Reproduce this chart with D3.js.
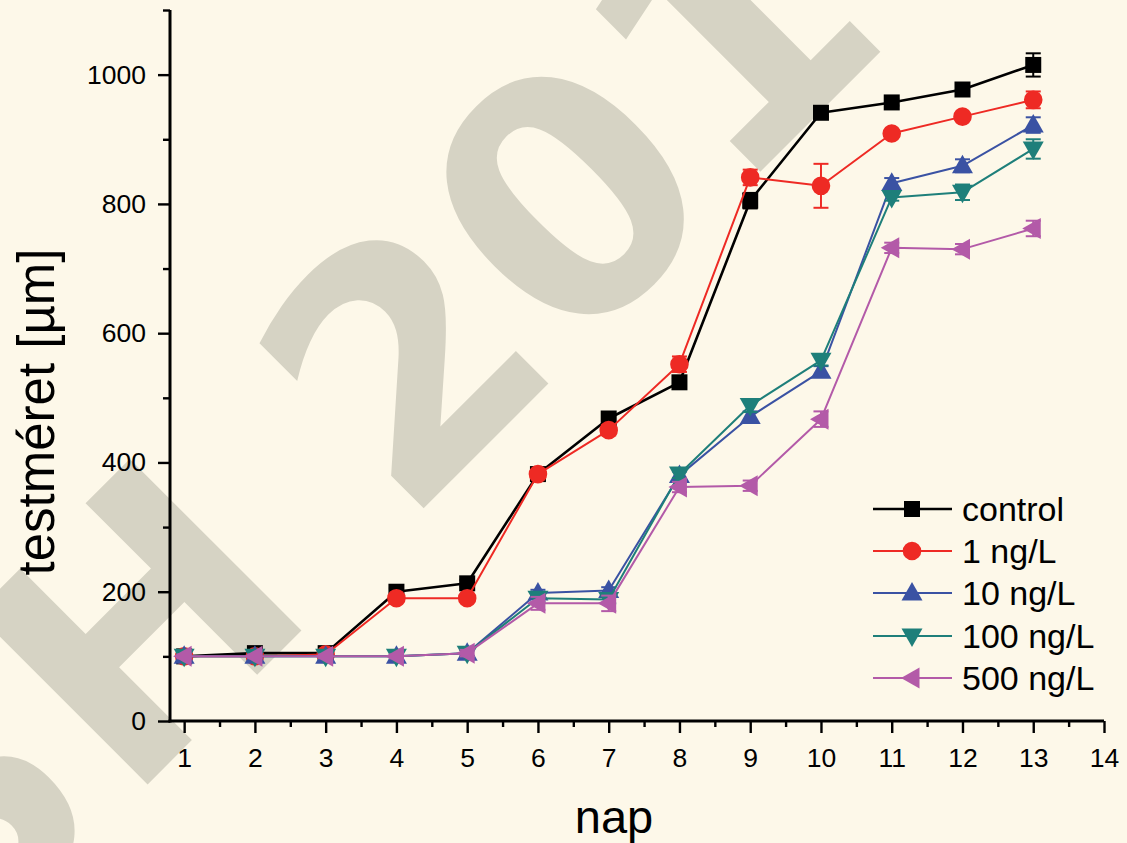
<!DOCTYPE html>
<html>
<head>
<meta charset="utf-8">
<script src="https://cdn.jsdelivr.net/npm/d3@7"></script>
<style>
  html, body { margin: 0; padding: 0; background: #fdf8e9; }
  svg { display: block; }
</style>
</head>
<body>
<script>
// Body size (µm) of larvae over days, per treatment concentration
const days = [1, 2, 3, 4, 5, 6, 7, 8, 9, 10, 11, 12, 13];

const control    = [100, 105, 105, 200, 213, 382, 468, 524, 805, 941, 957, 977, 1015];
const controlErr = [3, 3, 3, 5, 5, 6, 6, 6, 12, 6, 5, 5, 18];

const ng1    = [100, 100, 103, 190, 190, 382, 450, 552, 841, 828, 909, 935, 961];
const ng1Err = [3, 3, 3, 5, 5, 6, 8, 12, 12, 34, 5, 5, 13];

const ng10    = [100, 100, 100, 100, 105, 198, 202, 380, 471, 541, 832, 859, 922];
const ng10Err = [3, 3, 3, 3, 5, 5, 5, 6, 8, 8, 8, 10, 12];

const ng100    = [100, 100, 100, 100, 105, 190, 188, 382, 488, 558, 810, 818, 885];
const ng100Err = [3, 3, 3, 3, 5, 6, 6, 6, 10, 8, 5, 12, 15];

const ng500    = [100, 100, 100, 100, 105, 182, 182, 362, 364, 467, 732, 730, 762];
const ng500Err = [3, 3, 3, 3, 5, 10, 12, 8, 8, 12, 8, 8, 12];

const seriesNames = ["control", "1 ng/L", "10 ng/L", "100 ng/L", "500 ng/L"];
const xTicks = [1, 2, 3, 4, 5, 6, 7, 8, 9, 10, 11, 12, 13, 14];
const yTicks = [0, 200, 400, 600, 800, 1000];

const series = [
  { name: seriesNames[0], values: control, err: controlErr, color: "#000000", width: 2.6, shape: "square" },
  { name: seriesNames[1], values: ng1,     err: ng1Err,     color: "#ee2a24", width: 2,   shape: "circle" },
  { name: seriesNames[2], values: ng10,    err: ng10Err,    color: "#3a52a3", width: 2,   shape: "up" },
  { name: seriesNames[3], values: ng100,   err: ng100Err,   color: "#1e7f7a", width: 2,   shape: "down" },
  { name: seriesNames[4], values: ng500,   err: ng500Err,   color: "#b35aa8", width: 2,   shape: "left" }
];

const W = 1127, H = 843;
const FONT = "'Liberation Sans', Arial, Helvetica, sans-serif";

const svg = d3.select("body").append("svg")
  .attr("width", W).attr("height", H);

svg.append("rect").attr("width", W).attr("height", H).attr("fill", "#fdf8e9");

// Large faint diagonal stamp behind the plot
const stamp = svg.append("g")
  .attr("transform", "translate(126,806) rotate(-45)")
  .attr("fill", "#d6d3c4")
  .style("font-family", "'DejaVu Sans', sans-serif")
  .style("font-weight", "bold")
  .style("font-size", "333px");
stamp.append("text").attr("x", 0).attr("y", 0).text("H 2016");
stamp.append("text").attr("x", -10).attr("y", 0).attr("text-anchor", "end").text("S");

const x = d3.scaleLinear().domain([0.8, 14]).range([170, 1104]);
const y = d3.scaleLinear().domain([0, 1100]).range([721, 10]);

// Minor ticks
const xMinor = d3.range(1.5, 14, 1);
const yMinor = d3.range(100, 1101, 200);

const axisStroke = 3;

const gx = svg.append("g").attr("transform", `translate(0,${y(0)})`);
gx.call(d3.axisBottom(x).tickValues(xMinor).tickSize(6).tickSizeOuter(0).tickFormat(""));
gx.call(g => g.selectAll(".domain").remove());
const gx2 = svg.append("g").attr("transform", `translate(0,${y(0)})`);
gx2.call(d3.axisBottom(x).tickValues(xTicks).tickSize(12).tickSizeOuter(0).tickPadding(15).tickFormat(d3.format("d")));

const gy = svg.append("g").attr("transform", `translate(${x(0.8)},0)`);
gy.call(d3.axisLeft(y).tickValues(yMinor).tickSize(7).tickSizeOuter(0).tickFormat(""));
gy.call(g => g.selectAll(".domain").remove());
const gy2 = svg.append("g").attr("transform", `translate(${x(0.8)},0)`);
gy2.call(d3.axisLeft(y).tickValues(yTicks).tickSize(12).tickSizeOuter(0).tickPadding(12).tickFormat(d3.format("d")));

[gx, gx2, gy, gy2].forEach(g => {
  g.selectAll("path.domain").attr("stroke", "#000").attr("stroke-width", axisStroke);
  g.selectAll(".tick line").attr("stroke", "#000").attr("stroke-width", 2.4);
  g.selectAll(".tick text").attr("fill", "#000").style("font-family", FONT).style("font-size", "26.5px");
});
gx2.select("path.domain").attr("d", `M${x(0.8) - 1.5},0H${x(14)}`);
gy2.select("path.domain").attr("d", `M0,${y(0) + 1.5}V${y(1100)}`);

// Axis titles
svg.append("text")
  .attr("transform", `translate(54,${412}) rotate(-90)`)
  .attr("text-anchor", "middle")
  .style("font-family", FONT).style("font-size", "51px")
  .text("testméret [µm]");

svg.append("text")
  .attr("x", 614).attr("y", 833)
  .attr("text-anchor", "middle")
  .style("font-family", FONT).style("font-size", "47px")
  .text("nap");

// Marker shapes
function markerPath(shape) {
  switch (shape) {
    case "square": return "M-8,-8H8V8H-8Z";
    case "circle": return d3.arc()({ innerRadius: 0, outerRadius: 9.3, startAngle: 0, endAngle: 2 * Math.PI });
    case "up":   return "M0,-11L10.5,7.5L-10.5,7.5Z";
    case "down": return "M0,11L10.5,-7.5L-10.5,-7.5Z";
    case "left": return "M-11,0L7.5,-10.5L7.5,10.5Z";
  }
}

const line = d3.line().x((d, i) => x(days[i])).y(d => y(d));

series.forEach(s => {
  const g = svg.append("g");
  g.append("path")
    .attr("d", line(s.values))
    .attr("fill", "none")
    .attr("stroke", s.color)
    .attr("stroke-width", s.width)
    .attr("stroke-linejoin", "round");

  // error bars
  const eb = g.append("g").attr("stroke", s.color).attr("stroke-width", 2);
  s.values.forEach((v, i) => {
    const e = s.err[i];
    const cx = x(days[i]);
    const y1 = y(v + e), y2 = y(v - e);
    eb.append("line").attr("x1", cx).attr("x2", cx).attr("y1", y1).attr("y2", y2);
    eb.append("line").attr("x1", cx - 7.5).attr("x2", cx + 7.5).attr("y1", y1).attr("y2", y1);
    eb.append("line").attr("x1", cx - 7.5).attr("x2", cx + 7.5).attr("y1", y2).attr("y2", y2);
  });

  g.selectAll("path.mk")
    .data(s.values)
    .join("path")
    .attr("class", "mk")
    .attr("d", markerPath(s.shape))
    .attr("transform", (d, i) => `translate(${x(days[i])},${y(d)})`)
    .attr("fill", s.color);
});

// Legend
const legendRows = [509, 551, 593, 636, 678];
const lg = svg.append("g");
series.forEach((s, i) => {
  const row = lg.append("g").attr("transform", `translate(0,${legendRows[i]})`);
  row.append("line").attr("x1", 873).attr("x2", 952).attr("y1", 0).attr("y2", 0)
    .attr("stroke", s.color).attr("stroke-width", s.width);
  row.append("path").attr("d", markerPath(s.shape)).attr("transform", "translate(912,0)").attr("fill", s.color);
  row.append("text").attr("x", 962).attr("y", 0).attr("dy", "0.36em")
    .style("font-family", FONT).style("font-size", "34px").attr("fill", "#000")
    .text(s.name);
});
</script>
</body>
</html>
